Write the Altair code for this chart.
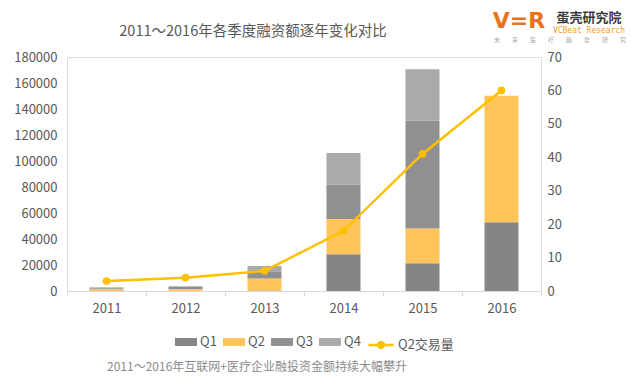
import altair as alt
import pandas as pd

years = ["2011", "2012", "2013", "2014", "2015", "2016"]
quarters = ["Q1", "Q2", "Q3", "Q4"]
q1 = [300, 200, 300, 28200, 21300, 52800]
q2 = [1500, 1300, 9300, 27200, 26700, 97400]
q3 = [700, 1500, 5100, 26400, 83100, 0]
q4 = [400, 600, 4500, 24400, 39500, 0]
deals_q2 = [3, 4, 6, 18, 41, 60]
line_name = "Q2交易量"
left_ticks = list(range(0, 180001, 20000))
right_ticks = list(range(0, 71, 10))

title_text = "2011～2016年各季度融资额逐年变化对比"
caption_text = "2011～2016年互联网+医疗企业融投资金额持续大幅攀升"

quarter_colors = ["#858585", "#ffc55a", "#909090", "#aaaaaa"]
line_color = "#ffc000"
FONT = "Noto Sans CJK SC"

rows = []
for i, y in enumerate(years):
    for qi, (q, vals) in enumerate(zip(quarters, [q1, q2, q3, q4])):
        rows.append({"year": y, "quarter": q, "qi": qi, "amount": vals[i]})
bar_df = pd.DataFrame(rows)
line_df = pd.DataFrame({"year": years, "deals": deals_q2, "series": [line_name] * len(years)})

x_enc = alt.X(
    "year:N", sort=years, title=None,
    scale=alt.Scale(paddingInner=0, paddingOuter=0),
    axis=alt.Axis(labelAngle=0, labelFontSize=13, labelColor="#595959", labelPadding=6,
                  domainColor="#d9d9d9", tickColor="#d9d9d9", tickSize=5, tickBand="extent",
                  grid=False, labelFont=FONT),
)

bars = alt.Chart(bar_df).mark_bar(size=34).encode(
    x=x_enc,
    y=alt.Y("amount:Q", stack="zero", title=None,
            scale=alt.Scale(domain=[0, 180000], nice=False),
            axis=alt.Axis(orient="left", values=left_ticks, format="d", ticks=False, domain=False,
                          grid=False, labelPadding=10, labelFontSize=13, labelColor="#595959",
                          labelFont=FONT)),
    color=alt.Color("quarter:N", sort=quarters,
                    scale=alt.Scale(domain=quarters, range=quarter_colors),
                    legend=alt.Legend(title=None, orient="none", legendX=108, legendY=274,
                                      direction="horizontal",
                                      symbolType="M-1,-0.36H1V0.36H-1Z", symbolSize=484,
                                      symbolStrokeWidth=0, labelFontSize=13, labelColor="#595959",
                                      labelFont=FONT, columnPadding=6, labelOffset=3)),
    order=alt.Order("qi:Q", sort="ascending"),
)

line = alt.Chart(line_df).mark_line(
    strokeWidth=2.5,
    point=alt.OverlayMarkDef(filled=True, size=32, color=line_color),
).encode(
    x=alt.X("year:N", sort=years),
    y=alt.Y("deals:Q", title=None, scale=alt.Scale(domain=[0, 70], nice=False),
            axis=alt.Axis(orient="right", values=right_ticks, ticks=False, domain=False, grid=False,
                          labelPadding=6, labelFontSize=13, labelColor="#595959", labelFont=FONT)),
    stroke=alt.Stroke("series:N", scale=alt.Scale(domain=[line_name], range=[line_color]),
                      legend=alt.Legend(title=None, orient="none", legendX=300, legendY=274,
                                        direction="horizontal",
                                        symbolType="M-1,0H1M0.22,0A0.22,0.22 0 1 1 -0.22,0A0.22,0.22 0 1 1 0.22,0",
                                        symbolSize=625, symbolStrokeWidth=2.5,
                                        symbolFillColor=line_color,
                                        labelFontSize=13, labelColor="#595959", labelFont=FONT,
                                        labelOffset=3)),
)


def txt(text, x, y, size, color, weight="normal", font=FONT, align="center"):
    return alt.Chart(pd.DataFrame({"t": [text]})).mark_text(
        fontSize=size, color=color, fontWeight=weight, font=font, align=align, baseline="middle"
    ).encode(x=alt.value(x), y=alt.value(y), text="t:N")


title = txt(title_text, 186, -25, 14.5, "#595959")
caption = txt(caption_text, 190, 310, 12, "#8c8c8c")
logo_v = txt("V=R", 452, -36, 22, "#e8731a", weight="bold", font="DejaVu Sans")
logo_cn = txt("蛋壳研究院", 522, -39, 13, "#3a3a3a", weight="bold")
logo_en = txt("VCBeat Research", 522, -26, 8, "#f0a030", font="DejaVu Sans Mono")
logo_sub = txt("未　　来　　医　　疗　　趋　　势　　研　　究", 493, -17, 6, "#aaaaaa")

chart = alt.layer(bars, line, title, caption, logo_v, logo_cn, logo_en, logo_sub).resolve_scale(
    y="independent"
).properties(
    width=474, height=234,
    autosize=alt.AutoSizeParams(type="none"),
    padding={"left": 59, "top": 49, "right": 91, "bottom": 86},
).configure_view(stroke=None).configure(font=FONT)

chart.save("out.html", embed_options={"renderer": "svg", "actions": False})
